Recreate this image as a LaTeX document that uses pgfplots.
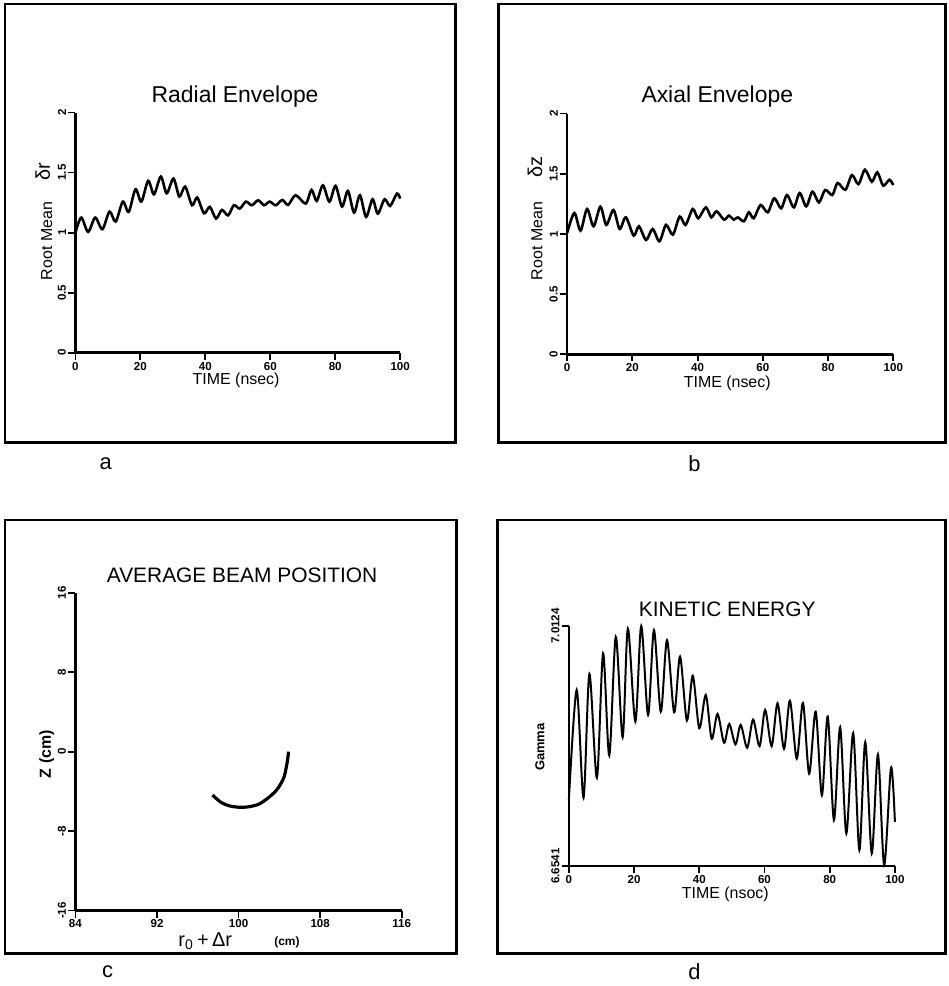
\documentclass[border=0pt]{standalone}
\usepackage{fontspec}
\setmainfont{Liberation Sans}
\usepackage{pgfplots}
\pgfplotsset{compat=1.18}
\pgfplotsset{
 plotter/.style={
  scale only axis,
  axis lines=left,
  axis line style={-, line width=1.2pt},
  tick align=outside,
  major tick length=3.5pt,
  tick style={line width=0.9pt, black},
  every tick label/.append style={font=\fontsize{5.8}{6}\selectfont\bfseries},
  /pgf/number format/assume math mode=true,
  yticklabel style={rotate=90, anchor=south, inner sep=1pt},
  xticklabel style={inner sep=1pt},
  clip=false,
  anchor=south west,
 }
}
\begin{document}
\begin{tikzpicture}
\fill[white] (0,0) rectangle (476pt,493pt);
% frames
\draw[line width=1.4pt] (2.5pt,271pt) rectangle (228.5pt,491pt);
\draw[line width=1.4pt] (250pt,271pt) rectangle (474.5pt,491pt);
\draw[line width=1.4pt] (2.5pt,14.5pt) rectangle (229pt,232pt);
\draw[line width=1.4pt] (249.5pt,14.5pt) rectangle (474.5pt,232pt);
% panel letters
\node[font=\fontsize{11}{12}\selectfont] at (53pt,260.5pt) {a};
\node[font=\fontsize{11}{12}\selectfont] at (348.5pt,260.5pt) {b};
\node[font=\fontsize{11}{12}\selectfont] at (54pt,5.5pt) {c};
\node[font=\fontsize{11}{12}\selectfont] at (348.5pt,5.5pt) {d};

% ---------------- panel a
\begin{axis}[plotter, at={(37.85pt,316pt)}, width=163pt, height=120.5pt,
  xmin=0, xmax=100, ymin=0, ymax=2, xtick={0,20,40,60,80,100}, ytick={0,0.5,1,1.5,2}]
\addplot[black, line width=1.3pt, smooth] coordinates {
(0,1.0) (1.8,1.125) (3.9,1.006) (6.1,1.125) (8.3,1.028) (10.5,1.175) (12.4,1.092)
(14.6,1.258) (16.4,1.172) (18.5,1.361) (20.3,1.258) (22.4,1.431) (24.2,1.319)
(26.3,1.467) (28.1,1.328) (30.2,1.45) (32.0,1.30) (33.8,1.383) (35.9,1.228)
(37.5,1.292) (39.6,1.161) (41.4,1.214) (43.3,1.117) (45.1,1.189) (47.0,1.144)
(48.8,1.228) (50.6,1.2) (52.5,1.258) (54.3,1.228) (56.3,1.269) (58.1,1.228)
(59.8,1.258) (61.7,1.228) (63.7,1.272) (65.5,1.231) (67.8,1.311) (70.9,1.242)
(72.7,1.356) (74.3,1.264) (76.2,1.394) (78.2,1.258) (80.1,1.389) (82.1,1.217)
(83.9,1.347) (85.8,1.167) (87.6,1.311) (89.5,1.131) (91.5,1.278) (93.1,1.158)
(95.2,1.278) (96.9,1.222) (99.0,1.325) (100,1.283)};
\end{axis}
\node[font=\fontsize{11.5}{12}\selectfont] at (118pt,444.5pt) {Radial Envelope};
\node[font=\fontsize{8}{9}\selectfont] at (118.5pt,302pt) {TIME (nsec)};
\node[rotate=90, font=\fontsize{8}{9}\selectfont] at (23.5pt,372pt) {Root Mean};
\node[rotate=90, font=\fontsize{10}{11}\selectfont] at (21.5pt,407pt) {δr};

% ---------------- panel b
\begin{axis}[plotter, at={(284.65pt,315.15pt)}, width=163.7pt, height=120.85pt,
  xmin=0, xmax=100, ymin=0, ymax=2, xtick={0,20,40,60,80,100}, ytick={0,0.5,1,1.5,2}]
\addplot[black, line width=1.3pt, smooth] coordinates {
(0,1.008) (2.2,1.174) (4.1,1.028) (6.1,1.207) (8.1,1.064) (10.2,1.227) (12.0,1.075)
(14.2,1.199) (16.1,1.041) (18.0,1.138) (20.4,0.986) (22.0,1.064) (24.2,0.950)
(26.2,1.041) (28.3,0.939) (30.3,1.075) (32.4,0.994) (34.5,1.144) (36.3,1.075)
(38.5,1.207) (40.2,1.130) (42.5,1.221) (44.2,1.138) (45.8,1.188) (48.1,1.119)
(49.6,1.152) (51.1,1.119) (52.3,1.138) (54.2,1.105) (55.7,1.180) (57.2,1.130)
(59.3,1.240) (61.5,1.180) (63.5,1.296) (65.6,1.213) (67.4,1.323) (69.5,1.221)
(71.3,1.340) (73.3,1.229) (75.2,1.351) (77.2,1.262) (79.1,1.365) (81.3,1.323)
(82.9,1.423) (85.3,1.367) (87.3,1.489) (89.3,1.414) (91.3,1.533) (93.4,1.434)
(95.1,1.511) (96.9,1.401) (98.8,1.450) (100,1.406)};
\end{axis}
\node[font=\fontsize{11.5}{12}\selectfont] at (360pt,444.5pt) {Axial Envelope};
\node[font=\fontsize{8}{9}\selectfont] at (365pt,300.5pt) {TIME (nsec)};
\node[rotate=90, font=\fontsize{8}{9}\selectfont] at (269.5pt,372pt) {Root Mean};
\node[rotate=90, font=\fontsize{10}{11}\selectfont] at (268.5pt,409pt) {δz};

% ---------------- panel c
\begin{axis}[plotter, at={(37.85pt,36pt)}, width=163.8pt, height=159.5pt,
  xmin=84, xmax=116, ymin=-16, ymax=16, xtick={84,92,100,108,116}, ytick={-16,-8,0,8,16}]
\addplot[black, line width=1.6pt, smooth] coordinates {
(104.9,0) (104.76,-1.1) (104.44,-2.6) (103.8,-3.77) (102.97,-4.6) (102.0,-5.28)
(101.0,-5.55) (100.05,-5.6) (99.07,-5.45) (98.26,-5.1) (97.44,-4.37)};
\end{axis}
\node[font=\fontsize{10.5}{12}\selectfont] at (121.5pt,204.5pt) {AVERAGE BEAM POSITION};
\node[font=\fontsize{10}{11}\selectfont, inner sep=0pt] at (103pt,20.5pt) {r\textsubscript{0}\,+\,Δr};
\node[font=\fontsize{6}{7}\selectfont\bfseries] at (144pt,20pt) {(cm)};
\node[rotate=90, font=\fontsize{8}{9}\selectfont\bfseries] at (23.5pt,114.5pt) {Z (cm)};

% ---------------- panel d
\begin{axis}[plotter, at={(285.5pt,58.35pt)}, width=163.65pt, height=120.5pt,
  xmin=0, xmax=100, ymin=6.6541, ymax=7.0124, xtick={0,20,40,60,80,100},
  ytick={6.6541,7.0124}, yticklabels={6.6541,7.0124}]
\addplot[black, line width=1pt, smooth] coordinates {
(0,6.7522) (2.4,6.9168) (4.5,6.7562) (6.3,6.9405) (8.6,6.7859) (10.5,6.9713)
(12.4,6.8191) (14.4,6.9960) (16.5,6.8464) (18.1,7.0084) (20.4,6.8697) (22.2,7.0124)
(24.3,6.8796) (26.1,7.0060) (28.2,6.8845) (30.1,6.9911) (32.3,6.8835) (34.1,6.9668)
(36.2,6.8712) (38.0,6.9381) (40.0,6.8598) (42.0,6.9093) (43.8,6.8439) (45.6,6.8811)
(47.6,6.8380) (49.2,6.8662) (51.1,6.8355) (52.7,6.8647) (54.7,6.8305) (56.5,6.8726)
(58.5,6.8330) (60.2,6.8870) (62.2,6.8330) (64.0,6.8969) (66.0,6.8290) (67.8,6.9009)
(69.9,6.8142) (71.8,6.8974) (73.7,6.7919) (75.7,6.8845) (77.6,6.7597) (79.4,6.8771)
(81.3,6.7225) (83.2,6.8612) (85.1,6.7027) (87.2,6.8523) (89.1,6.6779) (90.9,6.8389)
(92.9,6.6729) (94.8,6.8206) (96.7,6.6556) (98.8,6.8008) (100,6.7200)};
\end{axis}
\node[font=\fontsize{10.5}{12}\selectfont] at (365pt,187pt) {KINETIC ENERGY};
\node[font=\fontsize{8}{9}\selectfont] at (364pt,44pt) {TIME (nsoc)};
\node[rotate=90, font=\fontsize{6.5}{7}\selectfont\bfseries] at (271pt,118pt) {Gamma};
\end{tikzpicture}
\end{document}
